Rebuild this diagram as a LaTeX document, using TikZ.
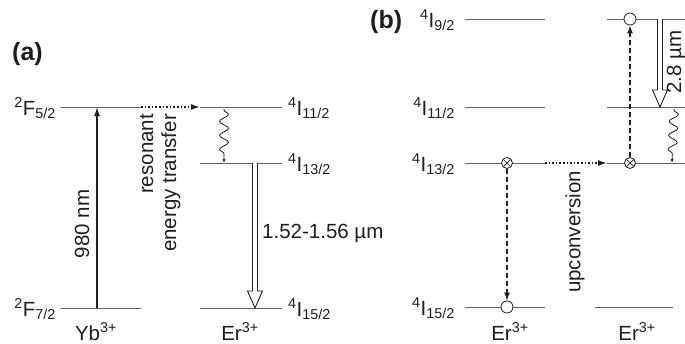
\documentclass[tikz,border=0pt]{standalone}
\usepackage{fontspec}
\setmainfont{Liberation Sans}
\usetikzlibrary{arrows.meta,calc,decorations.pathmorphing}
\definecolor{lvlGray}{RGB}{100,100,100}
\definecolor{inkDark}{RGB}{30,30,30}

\begin{document}
\begin{tikzpicture}[x=1pt, y=-1pt,
    lvline/.style={draw=lvlGray, line width=1pt},
    lbl/.style={inner sep=0pt, text=inkDark, font=\fontsize{20.5}{23}\selectfont},
    panel/.style={inner sep=0pt, text=inkDark, font=\fontsize{25}{28}\selectfont\bfseries},
    pump/.style={-{Latex[length=9pt,width=6pt]}, line width=1.4pt, inkDark},
    transfer/.style={-{Latex[length=9pt,width=6pt]}, line width=1.6pt, dotted, inkDark},
    ionhop/.style={-{Latex[length=8pt,width=6pt]}, line width=1.2pt, dash pattern=on 5pt off 3pt, inkDark},
    wavy/.style={decorate, decoration={snake, amplitude=4.5pt, segment length=14pt, pre length=1pt, post length=3pt}, -{Latex[length=4pt,width=3pt]}, line width=0.8pt, inkDark},
    hollow/.style={draw=inkDark, fill=white, line width=0.9pt, to path={let \p1=(\tikztostart), \p2=(\tikztotarget) in (\x1-2.5pt,\y1) -- (\x1-2.5pt,\y2+17pt) -- (\x1-7.5pt,\y2+17pt) -- (\x1,\y2) -- (\x1+7.5pt,\y2+17pt) -- (\x1+2.5pt,\y2+17pt) -- (\x1+2.5pt,\y1)}},
    ring/.style={circle, draw=inkDark, fill=white, line width=0.8pt, minimum size=12pt, inner sep=0pt},
    xring/.style={ring, minimum size=11pt, path picture={\draw[inkDark, line width=0.7pt] (path picture bounding box.north west) -- (path picture bounding box.south east) (path picture bounding box.north east) -- (path picture bounding box.south west);}}
]
\useasboundingbox (0,0) rectangle (685,343);
\clip (0,0) rectangle (685,343);

% (a) Yb -> Er transfer
\node[panel, anchor=base west] (pa) at (12,60) {(a)};
\draw[lvline] (61,107) coordinate (yb5L) -- (141,107) coordinate (yb5R);
\draw[lvline] (61,308) coordinate (yb7L) -- (141,308) coordinate (yb7R);
\draw[lvline] (200,107) coordinate (er11L) -- (282,107) coordinate (er11R);
\draw[lvline] (200,163) coordinate (er13L) -- (282,163) coordinate (er13R);
\draw[lvline] (200,308) coordinate (er15L) -- (282,308) coordinate (er15R);
\node[lbl, anchor=base east] (tyb5) at (56,115) {\textsuperscript{2}F\textsubscript{5/2}};
\node[lbl, anchor=base east] (tyb7) at (56,316) {\textsuperscript{2}F\textsubscript{7/2}};
\node[lbl, anchor=base west] (ter11) at (288,115) {\textsuperscript{4}I\textsubscript{11/2}};
\node[lbl, anchor=base west] (ter13) at (288,171) {\textsuperscript{4}I\textsubscript{13/2}};
\node[lbl, anchor=base west] (ter15) at (288,316) {\textsuperscript{4}I\textsubscript{15/2}};
\node[lbl, anchor=base] (tyb) at (96,340) {Yb\textsuperscript{3+}};
\node[lbl, anchor=base] (tera) at (240,340) {Er\textsuperscript{3+}};
\coordinate (pumpS) at (97,308);
\coordinate (pumpE) at (97,107);
\draw[pump] (pumpS) -- (pumpE);
\node[lbl, rotate=90] (t980) at (82,224) {980 nm};
\draw[transfer] (yb5R) -- (er11L);
\node[lbl, rotate=90, align=right] (tret) at (160,183) {resonant\\energy transfer};
\coordinate (relTop) at (224,109);
\coordinate (relBot) at (224,163);
\draw[wavy] (relTop) -- (relBot);
\coordinate (emTop) at (255,163);
\coordinate (emBot) at (255,308);
\draw[hollow] (emTop) to (emBot);
\node[lbl, anchor=west] (tem) at (262,233) {1.52-1.56 µm};

% (b) upconversion between two Er ions
\node[panel, anchor=base west] (pb) at (370,28) {(b)};
\draw[lvline] (465,19) coordinate (a9L) -- (545,19) coordinate (a9R);
\draw[lvline] (465,107) coordinate (a11L) -- (545,107) coordinate (a11R);
\draw[lvline] (465,163) coordinate (a13L) -- (545,163) coordinate (a13R);
\draw[lvline] (465,307) coordinate (a15L) -- (545,307) coordinate (a15R);
\draw[lvline] (607,19) coordinate (b9L) -- (690,19) coordinate (b9R);
\draw[lvline] (607,107) coordinate (b11L) -- (690,107) coordinate (b11R);
\draw[lvline] (607,163) coordinate (b13L) -- (690,163) coordinate (b13R);
\draw[lvline] (595,307) coordinate (b15L) -- (673,307) coordinate (b15R);
\node[lbl, anchor=base east] (ta9) at (455,27) {\textsuperscript{4}I\textsubscript{9/2}};
\node[lbl, anchor=base east] (ta11) at (455,115) {\textsuperscript{4}I\textsubscript{11/2}};
\node[lbl, anchor=base east] (ta13) at (455,171) {\textsuperscript{4}I\textsubscript{13/2}};
\node[lbl, anchor=base east] (ta15) at (455,315) {\textsuperscript{4}I\textsubscript{15/2}};
\node[lbl, anchor=base] (terb1) at (510,340) {Er\textsuperscript{3+}};
\node[lbl, anchor=base] (terb2) at (637,340) {Er\textsuperscript{3+}};
\node[xring] (xa) at (507,163) {};
\node[ring] (ra) at (507,307) {};
\node[xring] (xb) at (630,163) {};
\node[ring] (rb) at (630,19) {};
\draw[ionhop] (xa) -- (ra);
\draw[ionhop] (xb) -- (rb);
\draw[transfer] (a13R) -- (b13L);
\node[lbl, rotate=90] (tup) at (575,232) {upconversion};
\coordinate (midTop) at (660,19);
\coordinate (midBot) at (660,107);
\draw[hollow] (midTop) to (midBot);
\node[lbl, rotate=90] (t28) at (676,62) {2.8 µm};
\coordinate (relTop2) at (674,109);
\coordinate (relBot2) at (672,163);
\draw[wavy] (relTop2) -- (relBot2);
\end{tikzpicture}
\end{document}
